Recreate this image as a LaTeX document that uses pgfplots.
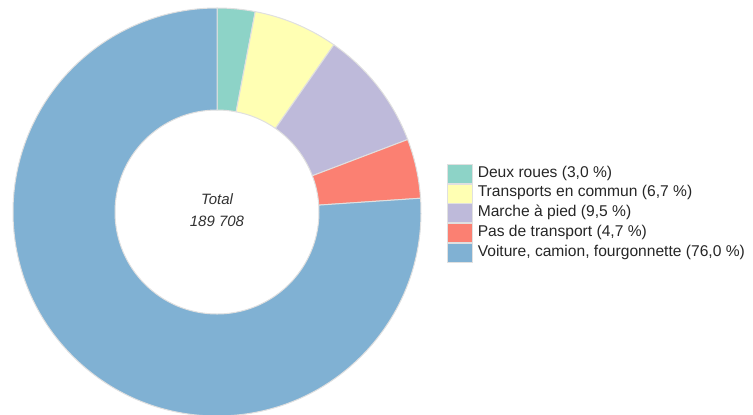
\documentclass[border=0pt]{standalone}
\usepackage{pgfplots}
\pgfplotsset{compat=1.18}
\usepackage{pgfplotstable}
\usepackage{fontspec}
\setmainfont{Liberation Sans}
\definecolor{c1}{HTML}{8DD3C7}
\definecolor{c2}{HTML}{FFFFB3}
\definecolor{c3}{HTML}{BEBADA}
\definecolor{c4}{HTML}{FB8072}
\definecolor{c5}{HTML}{80B1D3}

\pgfplotstableread{
value color
3.0 c1
6.7 c2
9.5 c3
4.7 c4
76.0 c5
}\data

\begin{document}
\begin{tikzpicture}
\begin{axis}[
  width=376.5pt, height=207pt, scale only axis,
  xmin=0, xmax=753, ymin=0, ymax=414,
  hide axis,
  legend cell align=left,
  legend style={draw=none, fill=none, at={(0.5936,0.6039)}, anchor=north west,
    inner sep=0pt, outer sep=0pt, row sep=0pt,
    font=\fontsize{7.8}{8.5}\selectfont, text=black!85,
    nodes={inner sep=0pt, text height=6.45pt, text depth=3.0pt},
    /tikz/every even column/.append style={column sep=2.5pt}},
  legend image code/.code={\draw[#1, draw=black!12, line width=0.4pt] (0pt,-4.72pt) rectangle (12.5pt,4.72pt);},
]
\pgfplotstablegetrowsof{\data}
\pgfmathtruncatemacro\N{\pgfplotsretval-1}
\def\tot{0}
\pgfplotsforeachungrouped \i in {0,...,\N}{%
  \pgfplotstablegetelem{\i}{value}\of\data
  \pgfmathsetmacro\tot{\tot+\pgfplotsretval}%
}
\def\cum{0}
\pgfplotsforeachungrouped \i in {0,...,\N}{%
  \pgfplotstablegetelem{\i}{value}\of\data \let\v\pgfplotsretval
  \pgfplotstablegetelem{\i}{color}\of\data \let\c\pgfplotsretval
  \pgfmathsetmacro\a{90-\cum/\tot*360}%
  \pgfmathsetmacro\cum{\cum+\v}%
  \pgfmathsetmacro\b{90-\cum/\tot*360}%
  \edef\temp{\noexpand\fill[fill=\c, draw=black!12, line width=0.5pt] ([shift={(\a:102pt)}]axis cs:217,202) arc[start angle=\a, end angle=\b, radius=102pt] -- ([shift={(\b:51pt)}]axis cs:217,202) arc[start angle=\b, end angle=\a, radius=51pt] -- cycle;}%
  \temp
}
\node[font=\itshape\fontsize{7.5}{11}\selectfont, align=center, text=black!80] at (axis cs:217,204) {Total\\189 708};
\addlegendimage{fill=c1}
\addlegendentry{\hspace{2.5pt}Deux roues (3,0 \%)}
\addlegendimage{fill=c2}
\addlegendentry{\hspace{2.5pt}Transports en commun (6,7 \%)}
\addlegendimage{fill=c3}
\addlegendentry{\hspace{2.5pt}Marche à pied (9,5 \%)}
\addlegendimage{fill=c4}
\addlegendentry{\hspace{2.5pt}Pas de transport (4,7 \%)}
\addlegendimage{fill=c5}
\addlegendentry{\hspace{2.5pt}Voiture, camion, fourgonnette (76,0 \%)}
\end{axis}
\pgfresetboundingbox
\useasboundingbox (current axis.south west) rectangle (current axis.north east);
\end{tikzpicture}
\end{document}
